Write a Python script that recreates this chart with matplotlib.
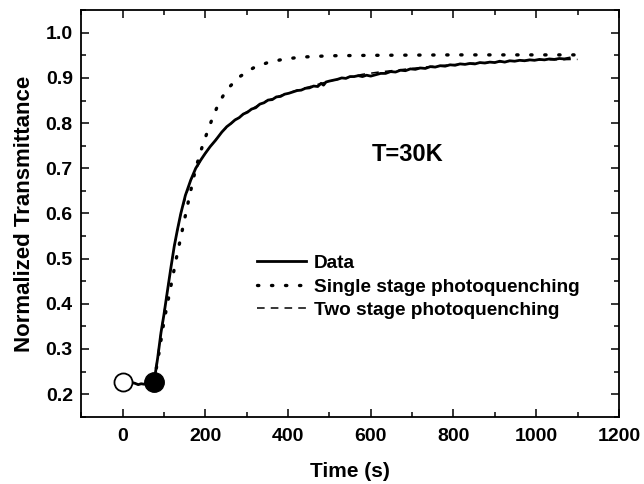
import numpy as np
import matplotlib
matplotlib.use("Agg")
import matplotlib.pyplot as plt
from matplotlib.ticker import MultipleLocator

plt.rcParams['font.family'] = ['Liberation Sans', 'DejaVu Sans']
plt.rcParams['font.weight'] = 'bold'

t_data = [0, 8, 15, 22, 30, 38, 45, 52, 60, 68, 76,
          80, 85, 93, 100, 109, 117, 125, 133, 141, 152, 165, 177, 189,
          200, 212, 225, 240, 252, 262, 272, 282, 292, 302, 312, 322, 332,
          342, 352, 362, 372, 382, 392, 402, 412, 422, 432, 442, 452, 462,
          472, 480, 486, 492, 500, 510, 520, 530, 540, 550, 560, 570, 580,
          590, 600, 612, 624, 636, 648, 660, 672, 684, 696, 708, 720, 732,
          744, 756, 768, 780, 792, 804, 816, 828, 840, 852, 864, 876, 888,
          900, 912, 924, 936, 948, 960, 972, 984, 996, 1008, 1020, 1032,
          1044, 1056, 1068, 1080]
y_data = [0.225, 0.226, 0.228, 0.226, 0.224, 0.221, 0.223, 0.222, 0.225, 0.226, 0.227,
          0.25, 0.28, 0.336, 0.375, 0.431, 0.48, 0.527, 0.565, 0.600, 0.640, 0.674, 0.700, 0.718,
          0.733, 0.748, 0.762, 0.780, 0.792, 0.799, 0.807, 0.812, 0.820, 0.824, 0.831, 0.834, 0.842,
          0.845, 0.851, 0.852, 0.858, 0.859, 0.864, 0.866, 0.869, 0.872, 0.873, 0.877, 0.878, 0.882,
          0.881, 0.888, 0.884, 0.891, 0.893, 0.895, 0.897, 0.900, 0.899, 0.903, 0.903, 0.905, 0.903,
          0.906, 0.904, 0.907, 0.910, 0.910, 0.914, 0.913, 0.917, 0.916, 0.920, 0.919, 0.922, 0.921,
          0.925, 0.924, 0.927, 0.926, 0.929, 0.928, 0.931, 0.930, 0.932, 0.931, 0.934, 0.933, 0.935,
          0.934, 0.937, 0.935, 0.938, 0.937, 0.939, 0.938, 0.940, 0.939, 0.941, 0.940, 0.942,
          0.941, 0.943, 0.942, 0.944]

# single stage fit
t_single = [76, 88, 100, 115, 130, 145, 160, 177, 195, 215, 232, 252, 282, 316,
            351, 387, 430, 500, 600, 800, 1100]
y_single = [0.227, 0.29, 0.36, 0.43, 0.50, 0.565, 0.63, 0.70, 0.755, 0.805, 0.843,
            0.874, 0.902, 0.922, 0.934, 0.941, 0.946, 0.949, 0.950, 0.951, 0.951]

# two stage fit
t_two = [76, 93, 109, 125, 141, 165, 189, 212, 240, 272, 302, 342, 382, 422, 462,
         500, 540, 580, 620, 660, 720, 780, 840, 900, 960, 1020, 1100]
y_two = [0.227, 0.336, 0.431, 0.527, 0.600, 0.674, 0.718, 0.748, 0.780, 0.807, 0.826,
         0.847, 0.861, 0.873, 0.883, 0.893, 0.900, 0.908, 0.913, 0.917, 0.923, 0.928,
         0.932, 0.935, 0.938, 0.940, 0.941]

# start / switch-on points
t_open, y_open = 0, 0.226
t_fill, y_fill = 76, 0.227

fig = plt.figure(figsize=(6.44, 4.84), dpi=100)
ax = fig.add_axes([0.126, 0.139, 0.835, 0.840])

ax.plot(t_data, y_data, color='black', lw=2.0, label='Data', zorder=3)
ax.plot(t_single, y_single, color='black', lw=2.4, linestyle=(0, (0.4, 3.8)),
        dash_capstyle='round', label='Single stage photoquenching', zorder=2)
ax.plot(t_two, y_two, color='black', lw=1.1, linestyle=(0, (5, 4)),
        label='Two stage photoquenching', zorder=2)
ax.plot([t_open], [y_open], 'o', ms=13, mfc='white', mec='black', mew=1.3, zorder=4)
ax.plot([t_fill], [y_fill], 'o', ms=14, mfc='black', mec='black', zorder=4)

ax.set_xlim(-100, 1200)
ax.set_ylim(0.15, 1.05)
ax.xaxis.set_major_locator(MultipleLocator(200))
ax.xaxis.set_minor_locator(MultipleLocator(100))
ax.yaxis.set_major_locator(MultipleLocator(0.1))
ax.yaxis.set_minor_locator(MultipleLocator(0.05))
ax.tick_params(which='both', direction='in', top=True, right=True, width=1.1,
               labelsize=14, pad=6)
ax.tick_params(axis='x', pad=8)
ax.tick_params(which='major', length=6)
ax.tick_params(which='minor', length=3.5)
for s in ax.spines.values():
    s.set_linewidth(1.3)

ax.set_xlabel('Time (s)', fontsize=15, fontweight='bold', labelpad=12)
ax.set_ylabel('Normalized Transmittance', fontsize=16, fontweight='bold', labelpad=8)

ax.text(0.54, 0.629, 'T=30K', transform=ax.transAxes, fontsize=17, fontweight='bold')

ax.legend(loc='upper left', bbox_to_anchor=(0.312, 0.417), frameon=False,
          fontsize=13.7, handlelength=2.6, handletextpad=0.4, labelspacing=0.32,
          borderaxespad=0)

fig.savefig('out.png', dpi=100)
